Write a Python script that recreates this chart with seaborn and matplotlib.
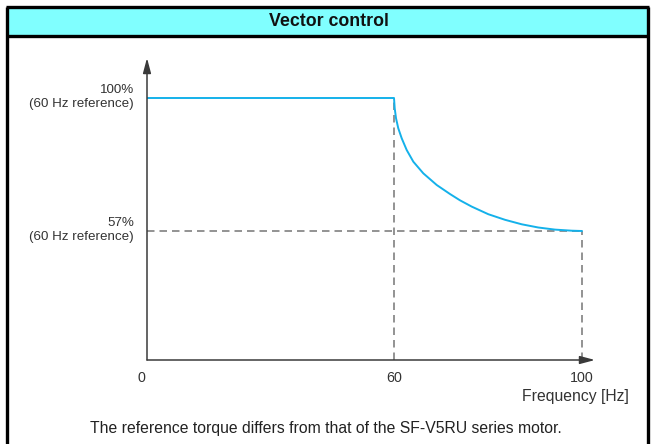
import numpy as np
import pandas as pd
import matplotlib
matplotlib.use("Agg")
import matplotlib.pyplot as plt
import seaborn as sns
from matplotlib.patches import Rectangle
from matplotlib.lines import Line2D

# Torque characteristic under vector control
freq_hz = [0, 60, 60.15, 60.43, 60.91, 61.64, 62.70, 64.11, 66.23, 69.09, 71.91,
           74.04, 76.53, 80.06, 83.62, 87.17, 90.70, 94.26, 97.81, 100]
torque_pct = [100, 100, 96.67, 93.44, 90.20, 86.97, 83.19, 79.41, 75.65, 71.87, 68.96,
              66.92, 64.89, 62.43, 60.62, 59.17, 58.13, 57.45, 57.10, 57]

x_ticks = [0, 60, 100]
x_tick_labels = ["0", "60", "100"]
base_freq = 60
max_freq = 100
low_torque = 57
y_tick_labels = ["100%\n(60 Hz reference)", "57%\n(60 Hz reference)"]

title = "Vector control"
x_label = "Frequency [Hz]"
caption = "The reference torque differs from that of the SF-V5RU series motor."

df = pd.DataFrame({"freq": freq_hz, "torque": torque_pct})

sns.set_theme(style="white")
plt.rcParams["font.family"] = ["Liberation Sans", "DejaVu Sans"]

W, H = 651, 444
fig = plt.figure(figsize=(W / 100, H / 100), dpi=100)
fig.patch.set_facecolor("white")


def fx(px):
    return px / W


def fy(py):
    return 1 - py / H


# Frame and header band
fig.patches.append(Rectangle((fx(7), fy(37)), fx(641), fy(8) - fy(37),
                             transform=fig.transFigure, facecolor="#80FFFF",
                             edgecolor="none", zorder=0))
frame_kw = dict(transform=fig.transFigure, color="black", lw=2.4, solid_capstyle="butt")
fig.lines.append(Line2D([fx(7), fx(7)], [fy(7), 0], **frame_kw))
fig.lines.append(Line2D([fx(647.5), fx(647.5)], [fy(7), 0], **frame_kw))
fig.lines.append(Line2D([fx(5.8), fx(648.7)], [fy(7.5), fy(7.5)], **frame_kw))
fig.lines.append(Line2D([fx(5.8), fx(648.7)], [fy(36.5), fy(36.5)], **frame_kw))
fig.text(fx(329), fy(22), title, ha="center", va="center", fontsize=12.8,
         fontweight="bold", color="#111111")

# Plot area: y axis at x=147, x axis at y=360
ax_l, ax_r, ax_t, ax_b = 147, 595, 58, 360
ax = fig.add_axes([fx(ax_l), fy(ax_b), fx(ax_r - ax_l), fy(ax_t) - fy(ax_b)])
ax.set_facecolor("none")

# Frequency axis is schematic: 0-60 Hz and 60-100 Hz use different spacings
px_pts = [0, 247, 435, 435 + 470]
hz_pts = [0, 60, 100, 200]


def fwd(v):
    return np.interp(v, hz_pts, px_pts)


def inv(v):
    return np.interp(v, px_pts, hz_pts)


ax.set_xscale("function", functions=(fwd, inv))
ax.set_xlim(0, inv(ax_r - ax_l))
ax.set_ylim(100 - (ax_b - 98) / 3.093, 100 + (98 - ax_t) / 3.093)

dash_kw = dict(color="#808080", lw=1.2, dashes=(4.5, 3.0), zorder=2)
y0 = ax.get_ylim()[0]
ax.plot([base_freq, base_freq], [y0, 100], **dash_kw)
ax.plot([max_freq, max_freq], [y0, low_torque], **dash_kw)
ax.plot([0, max_freq], [low_torque, low_torque], **dash_kw)

sns.lineplot(data=df, x="freq", y="torque", ax=ax, color="#14B1EA", lw=1.4,
             zorder=3, estimator=None, sort=False)

for s in ax.spines.values():
    s.set_visible(False)
ax.set_xlabel("")
ax.set_ylabel("")
ax.set_xticks([])
ax.set_yticks([])

# Axis lines with arrow heads
arrow_kw = dict(arrowstyle="-|>,head_length=0.75,head_width=0.2", color="#3a3a3a",
                lw=1.1, shrinkA=0, shrinkB=0)
ax.annotate("", xy=(0, 1), xytext=(0, 0), xycoords="axes fraction",
            textcoords="axes fraction", arrowprops=arrow_kw, annotation_clip=False)
ax.annotate("", xy=(1, 0), xytext=(0, 0), xycoords="axes fraction",
            textcoords="axes fraction", arrowprops=arrow_kw, annotation_clip=False)

label_color = "#333333"
for val, lab in zip(x_ticks, x_tick_labels):
    offset = -6 if val == 0 else 0
    ax.annotate(lab, xy=(val, 0), xycoords=("data", "axes fraction"),
                xytext=(offset, -18), textcoords="offset pixels",
                ha="center", va="center", fontsize=10.3, color=label_color,
                annotation_clip=False)

for val, lab in zip([100, low_torque], y_tick_labels):
    ax.annotate(lab, xy=(0, val), xycoords=("axes fraction", "data"),
                xytext=(-13, 1), textcoords="offset pixels",
                ha="right", va="center", fontsize=9.6, color=label_color,
                linespacing=1.3, annotation_clip=False)

fig.text(fx(629), fy(396), x_label, ha="right", va="center", fontsize=11.3,
         color=label_color)
fig.text(fx(326), fy(428), caption, ha="center", va="center", fontsize=11.3,
         color="#222222")

fig.savefig("out.png", dpi=100)
